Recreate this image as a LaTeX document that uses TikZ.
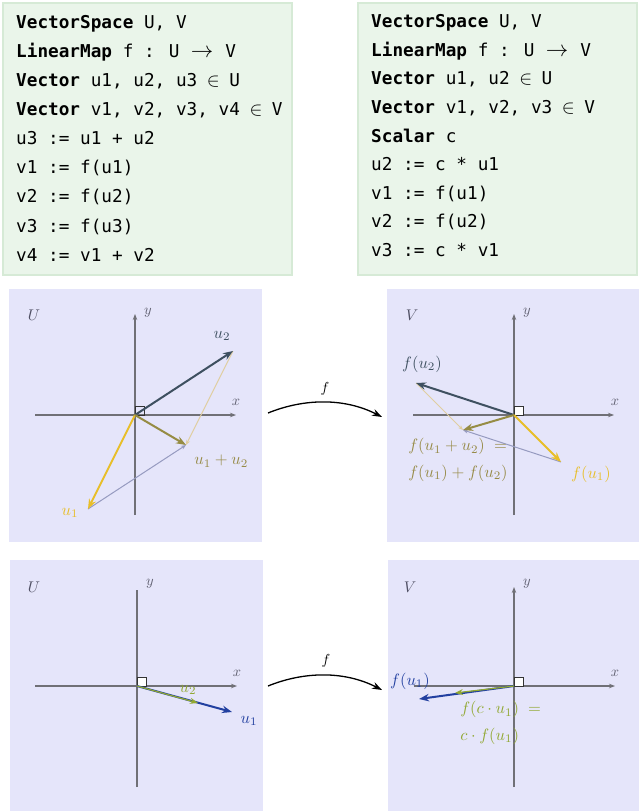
\documentclass[tikz,border=0pt]{standalone}
\usepackage{graphicx}
\usepackage{fontspec}
\newfontfamily\codefont{DejaVu Sans Mono}
\usetikzlibrary{arrows.meta}
\definecolor{codefill}{RGB}{234,245,234}
\definecolor{codeborder}{RGB}{214,234,214}
\definecolor{panelfill}{RGB}{229,229,250}
\definecolor{axisgray}{RGB}{112,112,118}
\definecolor{axistext}{RGB}{95,95,112}
\definecolor{spacetext}{RGB}{80,80,100}
\definecolor{slate}{RGB}{62,80,96}
\definecolor{gold}{RGB}{232,190,40}
\definecolor{olive}{RGB}{150,140,68}
\definecolor{olivetext}{RGB}{150,138,70}
\definecolor{tanlight}{RGB}{224,206,160}
\definecolor{bluegray}{RGB}{150,155,192}
\definecolor{deepblue}{RGB}{34,64,160}
\definecolor{leaf}{RGB}{145,168,50}
\newcommand{\cin}{\makebox[10.65pt][c]{\scalebox{1.12}{$\in$}}}
\newcommand{\carr}{\makebox[24.5pt][l]{\hspace{0.5pt}\scalebox{1.3}{$\rightarrow$}}}
\begin{document}
\begin{tikzpicture}[x=1pt,y=-1pt,
  codebox/.style={draw=codeborder,fill=codefill,line width=1.5pt},
  codeline/.style={anchor=base west,inner sep=0pt,font=\codefont\fontsize{17.7}{20}\selectfont},
  panel/.style={fill=panelfill},
  axisline/.style={draw=axisgray,line width=1.2pt},
  axisarrow/.style={axisline,-{Stealth[length=6pt,width=4.5pt]}},
  rightangle/.style={draw=black!80,line width=0.8pt},
  vec/.style={line width=2pt,-{Stealth[length=10pt,width=7.5pt]}},
  ghost/.style={line width=1pt,-{Stealth[length=5pt,width=4pt]}},
  lbl/.style={inner sep=0pt,scale=1.65,font=\fontsize{10}{16}\selectfont},
  axlbl/.style={inner sep=0pt,scale=1.45,text=axistext,font=\fontsize{10}{12}\selectfont},
  spacelbl/.style={inner sep=0pt,scale=1.55,text=spacetext,font=\fontsize{10}{12}\selectfont},
  maparrow/.style={line width=1.3pt,-{Stealth[length=10pt,width=7pt]}},
  maplbl/.style={inner sep=0pt,scale=1.45,font=\fontsize{10}{12}\selectfont}]
\useasboundingbox (0,0) rectangle (639,811);
% ---------- code boxes ----------
\draw[codebox] (3,3) rectangle (292,275);
\draw[codebox] (358,3) rectangle (637,275);
\node[codeline] (l1) at (16,28.3) {\textbf{VectorSpace} U, V};
\node[codeline] (l2) at (16,57.4) {\textbf{LinearMap} f : U \carr{} V};
\node[codeline] (l3) at (16,86.5) {\textbf{Vector} u1, u2, u3 \cin{} U};
\node[codeline] (l4) at (16,115.6) {\textbf{Vector} v1, v2, v3, v4 \cin{} V};
\node[codeline] (l5) at (16,144.7) {u3 := u1 + u2};
\node[codeline] (l6) at (16,173.8) {v1 := f(u1)};
\node[codeline] (l7) at (16,202.9) {v2 := f(u2)};
\node[codeline] (l8) at (16,232.0) {v3 := f(u3)};
\node[codeline] (l9) at (16,261.1) {v4 := v1 + v2};
\node[codeline] (r1) at (371,27.6) {\textbf{VectorSpace} U, V};
\node[codeline] (r2) at (371,56.2) {\textbf{LinearMap} f : U \carr{} V};
\node[codeline] (r3) at (371,84.8) {\textbf{Vector} u1, u2 \cin{} U};
\node[codeline] (r4) at (371,113.4) {\textbf{Vector} v1, v2, v3 \cin{} V};
\node[codeline] (r5) at (371,142.0) {\textbf{Scalar} c};
\node[codeline] (r6) at (371,170.6) {u2 := c * u1};
\node[codeline] (r7) at (371,199.2) {v1 := f(u1)};
\node[codeline] (r8) at (371,227.8) {v2 := f(u2)};
\node[codeline] (r9) at (371,256.4) {v3 := c * v1};
% ---------- panels ----------
\fill[panel] (9,289) rectangle (262,542);
\fill[panel] (387,289) rectangle (639,542);
\fill[panel] (10,560) rectangle (263,811);
\fill[panel] (388,560) rectangle (639,811);
% ---------- panel 1 ----------
\coordinate (O1) at (135,415);
\coordinate (X1a) at (35,415); \coordinate (X1b) at (236,415);
\coordinate (Y1a) at (135,515); \coordinate (Y1b) at (135,314);
\draw[axisarrow] (X1a) -- (X1b);
\draw[axisarrow] (Y1a) -- (Y1b);
\draw[rightangle] (135,415) rectangle (144,406);
\coordinate (U1) at (88,509);
\coordinate (U2) at (233,351);
\coordinate (U3) at (186,445);
\draw[ghost,tanlight] (U2) -- (U3);
\draw[ghost,bluegray] (U1) -- (U3);
\draw[vec,slate] (O1) -- (U2);
\draw[vec,gold] (O1) -- (U1);
\draw[vec,olive] (O1) -- (U3);
\node[axlbl] (x1) at (236,402) {$x$};
\node[axlbl] (y1) at (148,313) {$y$};
\node[spacelbl] (s1) at (34,315) {$U$};
\node[lbl,text=slate] (lu2) at (222,336) {$u_2$};
\node[lbl,text=gold] (lu1) at (70,513) {$u_1$};
\node[lbl,text=olivetext,anchor=west] (lu3) at (194,461) {$u_1+u_2$};
% ---------- map arrow 1 ----------
\coordinate (m1a) at (268,413);
\coordinate (m1b) at (382,417);
\draw[maparrow] (m1a) .. controls (305,398) and (345,398) .. (m1b);
\node[maplbl] (f1) at (325,389) {$f$};
% ---------- panel 2 ----------
\coordinate (O2) at (514,415);
\coordinate (X2a) at (413,415); \coordinate (X2b) at (614,415);
\coordinate (Y2a) at (514,515); \coordinate (Y2b) at (514,314);
\draw[axisarrow] (X2a) -- (X2b);
\draw[axisarrow] (Y2a) -- (Y2b);
\draw[rightangle,fill=white] (514,415) rectangle (523,406);
\coordinate (V1) at (561,462);
\coordinate (V2) at (416,383);
\coordinate (V3) at (463,430);
\draw[ghost,tanlight] (V2) -- (V3);
\draw[ghost,bluegray] (V1) -- (V3);
\draw[vec,slate] (O2) -- (V2);
\draw[vec,gold] (O2) -- (V1);
\draw[vec,olive] (O2) -- (V3);
\node[axlbl] (x2) at (615,402) {$x$};
\node[axlbl] (y2) at (527,313) {$y$};
\node[spacelbl] (s2) at (412,315) {$V$};
\node[lbl,text=slate] (lv2) at (422,364) {$f(u_2)$};
\node[lbl,text=gold] (lv1) at (591,474) {$f(u_1)$};
\node[lbl,text=olivetext,anchor=north west,align=left] (lv3) at (408,438)
  {$f(u_1+u_2)\;=$\\$f(u_1)+f(u_2)$};
% ---------- panel 3 ----------
\coordinate (O3) at (137,686);
\coordinate (X3a) at (35,686); \coordinate (X3b) at (237,686);
\coordinate (Y3a) at (137,787); \coordinate (Y3b) at (137,590);
\draw[axisarrow] (X3a) -- (X3b);
\draw[axisline] (Y3a) -- (Y3b);
\draw[rightangle,fill=white] (137,686) rectangle (146,677);
\coordinate (W1) at (232,712);
\coordinate (W2) at (198,703);
\draw[vec,deepblue] (O3) -- (W1);
\draw[line width=1.2pt,leaf,-{Stealth[length=8pt,width=6pt]}] (O3) -- (W2);
\node[axlbl] (x3) at (237,673) {$x$};
\node[axlbl] (y3) at (150,584) {$y$};
\node[spacelbl] (s3) at (34,587) {$U$};
\node[lbl,text=leaf] (lw2) at (188,690) {$u_2$};
\node[lbl,text=deepblue] (lw1) at (249,721) {$u_1$};
% ---------- map arrow 2 ----------
\coordinate (m2a) at (268,686);
\coordinate (m2b) at (382,690);
\draw[maparrow] (m2a) .. controls (305,671) and (345,671) .. (m2b);
\node[maplbl] (f2) at (326,661) {$f$};
% ---------- panel 4 ----------
\coordinate (O4) at (514,686);
\coordinate (X4a) at (414,686); \coordinate (X4b) at (615,686);
\coordinate (Y4a) at (514,787); \coordinate (Y4b) at (514,587);
\draw[axisarrow] (X4a) -- (X4b);
\draw[axisarrow] (Y4a) -- (Y4b);
\draw[rightangle,fill=white] (514,686) rectangle (523,677);
\coordinate (Z1) at (419,699);
\coordinate (Z2) at (455,693);
\draw[vec,deepblue] (O4) -- (Z1);
\draw[line width=1.2pt,leaf,-{Stealth[length=8pt,width=6pt]}] (O4) -- (Z2);
\node[axlbl] (x4) at (615,673) {$x$};
\node[axlbl] (y4) at (527,584) {$y$};
\node[spacelbl] (s4) at (410,587) {$V$};
\node[lbl,text=deepblue] (lz1) at (410,681) {$f(u_1)$};
\node[lbl,text=leaf,anchor=north west,align=left] (lz3) at (460,701)
  {$f(c\cdot u_1)\;=$\\$c\cdot f(u_1)$};
\end{tikzpicture}
\end{document}
